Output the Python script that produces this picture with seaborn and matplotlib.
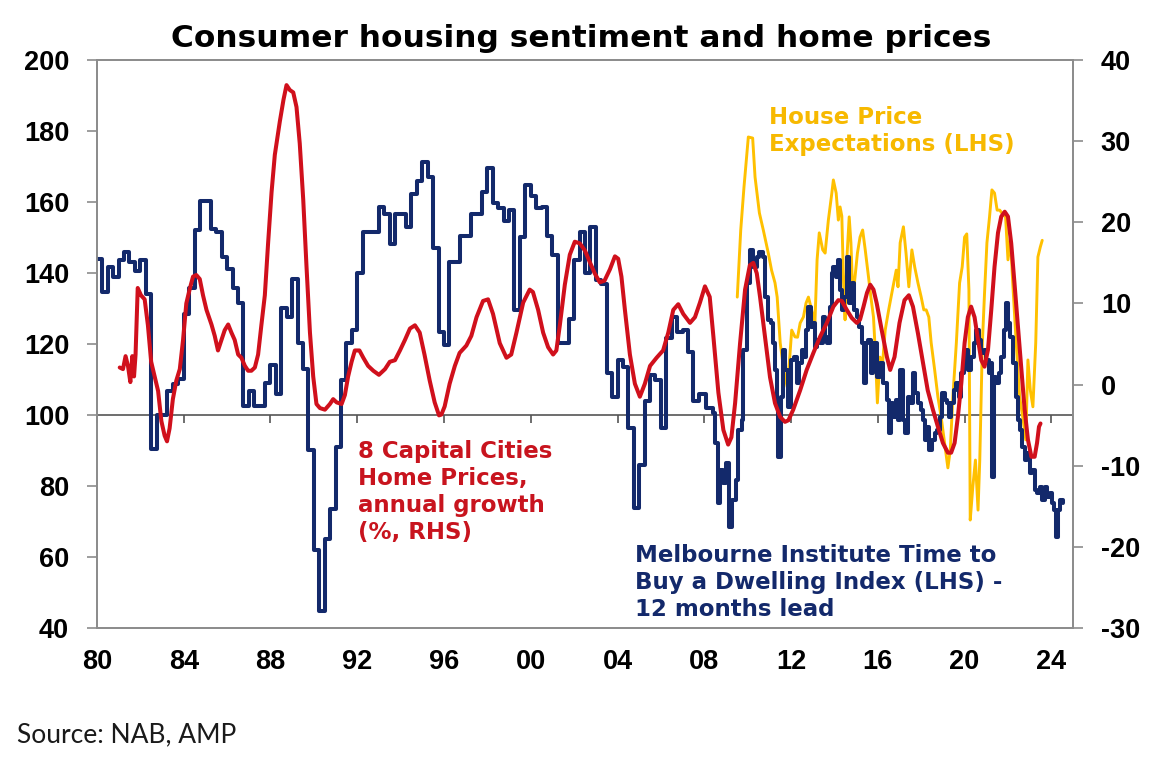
import matplotlib
matplotlib.use("Agg")
import matplotlib.pyplot as plt
import seaborn as sns

# Melbourne Institute "time to buy a dwelling" index (LHS), quarterly from 1980Q1 to 2007Q4
blue_q = [144, 134.5, 141.7, 139,
          143.6, 146, 143, 140.5,
          143.6, 134, 90.5, 100,
          100, 106.7, 108.7, 110,
          128.5, 135.8, 152, 160.3,
          160.3, 152.4, 151.4, 144.6,
          141, 135.8, 131.6, 102.5,
          106.7, 102.5, 102.5, 109,
          114, 106, 130, 127.5,
          138.4, 120.2, 112.9, 90,
          61.9, 44.7, 65, 73.4,
          91, 109.8, 120.2, 123.8,
          140, 151.4, 151.4, 151.4,
          158.7, 156.6, 148.3, 156.6,
          156.6, 153, 162.3, 166,
          171.2, 167, 147, 123.3,
          119.7, 143, 143, 150.4,
          150.4, 156.6, 156.6, 162.8,
          169.6, 159.7, 158.2, 154.5,
          157.6, 129.6, 150, 164.9,
          161.8, 158.2, 158.7, 150.4,
          145.2, 120.2, 120.2, 127,
          143.6, 151.4, 140, 153,
          138, 136.8, 111.9, 105,
          115.5, 113.4, 96.3, 73.9,
          85.8, 104, 111.3, 109.8,
          96.3, 121.7, 127.5, 123.3,
          123.8, 117.6, 104, 106]

# same index, monthly readings from 2008
blue_m_years = [2008.1, 2008.42, 2008.5, 2008.65, 2008.72, 2008.88, 2009.0, 2009.15, 2009.3, 2009.46,
                2009.57, 2009.72, 2009.8, 2009.95, 2010.1, 2010.23, 2010.42, 2010.54, 2010.7, 2010.8,
                2010.95, 2011.06, 2011.15, 2011.26, 2011.34, 2011.42, 2011.52, 2011.62, 2011.72, 2011.88,
                2011.98, 2012.14, 2012.26, 2012.38, 2012.49, 2012.6, 2012.69, 2012.8, 2012.9, 2013.0,
                2013.1, 2013.2, 2013.34, 2013.46, 2013.57, 2013.68, 2013.8, 2013.88, 2013.95, 2014.08,
                2014.18, 2014.26, 2014.34, 2014.45, 2014.57, 2014.68, 2014.8, 2014.88, 2015.03, 2015.15,
                2015.26, 2015.34, 2015.46, 2015.57, 2015.68, 2015.8, 2015.95, 2016.1, 2016.26, 2016.42,
                2016.5, 2016.6, 2016.72, 2016.85, 2016.95, 2017.03, 2017.15, 2017.26, 2017.38, 2017.5,
                2017.62, 2017.73, 2017.85, 2017.97, 2018.08, 2018.18, 2018.28, 2018.38, 2018.5, 2018.62,
                2018.73, 2018.85, 2018.95, 2019.08, 2019.18, 2019.28, 2019.38, 2019.5, 2019.62, 2019.73,
                2019.85, 2019.95, 2020.08, 2020.18, 2020.3, 2020.42, 2020.54, 2020.66, 2020.77, 2020.88,
                2021.0, 2021.12, 2021.2, 2021.28, 2021.35, 2021.46, 2021.58, 2021.69, 2021.8, 2021.89,
                2022.0, 2022.11, 2022.23, 2022.35, 2022.46, 2022.57, 2022.66, 2022.77, 2022.88, 2023.0,
                2023.12, 2023.23, 2023.34, 2023.46, 2023.57, 2023.69, 2023.8, 2023.92, 2024.02, 2024.1,
                2024.2, 2024.3, 2024.42, 2024.54]
blue_m_vals = [102, 100.6, 92, 75.2, 84.5, 80.8, 86.5, 68.5, 76, 81.7,
               95.8, 98.6, 118.3, 137.2, 146.5, 141.7, 144.5, 145.9, 144.5, 133.2,
               126.8, 125.9, 120.3, 112.7, 104.2, 88.2, 105.1, 118.3, 112.7, 102.3,
               115.5, 116.3, 109, 114.6, 118.3, 116.3, 123.9, 130.4, 124.8, 125.9,
               119.2, 121.1, 120.3, 127.6, 122, 120.3, 130.4, 140, 141.7, 138.9,
               143.7, 135.2, 129.6, 133.2, 144.5, 131.5, 137.2, 129.6, 127.6, 124.8,
               120.3, 109, 120.3, 121.1, 111.8, 120.3, 110.8, 114.6, 109, 104.2,
               95, 103.4, 99.4, 104.2, 98.6, 112.7, 98.6, 95, 105.1, 103.4,
               111.8, 106.2, 103.4, 101.4, 98.6, 93, 96.6, 90.1, 93, 95,
               95.8, 99.4, 106.2, 104.2, 103.4, 99.4, 103.4, 107, 109, 105.1,
               111.8, 114.6, 118.3, 112.7, 116.3, 120.3, 124, 121.1, 117.5, 118.3,
               115.5, 111.8, 114.6, 82.5, 110.8, 109, 111.8, 116.3, 124, 131.5,
               125.9, 122, 114.6, 105.1, 98.6, 95.8, 91, 87.3, 89.2, 83.6,
               84.5, 78.9, 78, 79.8, 76.1, 79.8, 76.9, 78, 75.2, 73.2,
               65.6, 73.2, 76.1, 75.2]

# 8 capital cities home prices, annual growth % (RHS)
red_years = [1981.05, 1981.2, 1981.32, 1981.43, 1981.54, 1981.63, 1981.71, 1981.78, 1981.88, 1982.03,
             1982.2, 1982.35, 1982.5, 1982.66, 1982.82, 1982.97, 1983.12, 1983.23, 1983.35, 1983.5,
             1983.66, 1983.82, 1983.97, 1984.12, 1984.28, 1984.43, 1984.58, 1984.74, 1984.89, 1985.05,
             1985.28, 1985.43, 1985.58, 1985.74, 1985.89, 1986.05, 1986.2, 1986.35, 1986.51, 1986.66,
             1986.82, 1986.97, 1987.12, 1987.28, 1987.43, 1987.58, 1987.74, 1987.89, 1988.05, 1988.2,
             1988.43, 1988.6, 1988.74, 1988.89, 1989.05, 1989.2, 1989.35, 1989.51, 1989.66, 1989.82,
             1989.97, 1990.12, 1990.28, 1990.51, 1990.74, 1990.89, 1991.05, 1991.28, 1991.43, 1991.58,
             1991.74, 1991.89, 1992.1, 1992.28, 1992.5, 1992.74, 1993.0, 1993.28, 1993.5, 1993.74,
             1993.97, 1994.2, 1994.43, 1994.66, 1994.88, 1995.1, 1995.34, 1995.57, 1995.77, 1995.88,
             1996.03, 1996.26, 1996.5, 1996.72, 1997.03, 1997.26, 1997.5, 1997.8, 1998.03, 1998.26,
             1998.57, 1998.88, 1999.1, 1999.34, 1999.65, 1999.95, 2000.1, 2000.34, 2000.57, 2000.8,
             2001.03, 2001.18, 2001.34, 2001.57, 2001.8, 2002.03, 2002.26, 2002.5, 2002.72, 2002.95,
             2003.18, 2003.4, 2003.65, 2003.88, 2004.03, 2004.18, 2004.34, 2004.57, 2004.8, 2005.03,
             2005.26, 2005.5, 2005.8, 2006.1, 2006.34, 2006.57, 2006.8, 2007.03, 2007.34, 2007.57,
             2007.8, 2008.03, 2008.25, 2008.42, 2008.65, 2008.88, 2009.1, 2009.25, 2009.42, 2009.65,
             2009.88, 2010.1, 2010.26, 2010.42, 2010.57, 2010.8, 2011.03, 2011.26, 2011.5, 2011.72,
             2011.88, 2012.1, 2012.42, 2012.72, 2013.03, 2013.34, 2013.65, 2013.95, 2014.18, 2014.34,
             2014.57, 2014.8, 2015.03, 2015.18, 2015.34, 2015.5, 2015.65, 2015.8, 2015.95, 2016.18,
             2016.42, 2016.57, 2016.77, 2017.0, 2017.23, 2017.43, 2017.62, 2017.85, 2018.08, 2018.3,
             2018.54, 2018.77, 2019.0, 2019.23, 2019.38, 2019.54, 2019.69, 2019.85, 2020.0, 2020.15,
             2020.3, 2020.46, 2020.62, 2020.77, 2020.92, 2021.08, 2021.23, 2021.38, 2021.54, 2021.69,
             2021.85, 2022.0, 2022.15, 2022.3, 2022.46, 2022.62, 2022.77, 2022.92, 2023.08, 2023.23,
             2023.34, 2023.43, 2023.5]
red_vals = [2.1, 1.9, 3.5, 2.3, 0.3, 3.5, 1.0, 3.7, 11.9, 11.0,
            10.5, 7.3, 2.8, 1.0, -0.8, -4.5, -6.3, -7.0, -5.4, -1.8,
            0.5, 1.9, 5.5, 10.0, 11.8, 13.3, 13.5, 13.0, 11.0, 9.2,
            7.4, 6.0, 4.2, 5.5, 6.7, 7.4, 6.4, 5.5, 3.7, 3.3,
            2.3, 1.7, 1.7, 2.1, 3.7, 7.3, 11.0, 17.4, 23.7, 28.3,
            32.4, 35.1, 36.9, 36.3, 36.0, 34.2, 29.7, 22.8, 14.6, 6.4,
            1.0, -2.4, -2.9, -3.1, -2.4, -1.8, -2.2, -2.4, -1.3, 1.0,
            2.8, 4.2, 4.2, 3.3, 2.3, 1.7, 1.2, 1.9, 2.8, 3.0,
            4.2, 5.5, 6.9, 7.3, 6.4, 3.7, 0.5, -2.2, -3.8, -3.7,
            -2.7, 0.1, 2.3, 3.9, 4.8, 6.0, 8.3, 10.3, 10.5, 8.7,
            5.1, 3.3, 3.7, 6.4, 10.1, 11.7, 11.4, 9.2, 6.4, 4.6,
            3.7, 4.2, 7.3, 12.3, 16.0, 17.6, 17.4, 16.5, 15.1, 13.7,
            12.6, 12.8, 14.2, 15.8, 15.5, 13.3, 9.2, 3.7, 0.1, -1.5,
            0.1, 2.3, 3.3, 4.2, 6.4, 9.2, 9.9, 8.7, 7.6, 8.3,
            10.1, 12.1, 10.8, 5.9, -1.0, -5.6, -7.4, -6.5, -2.3, 5.1,
            11.7, 14.7, 15.0, 13.7, 10.8, 5.9, 0.9, -2.3, -4.0, -4.6,
            -4.4, -3.1, -0.7, 1.8, 3.9, 5.9, 7.6, 9.6, 10.4, 10.3,
            9.2, 8.2, 7.6, 8.0, 9.6, 11.3, 12.3, 11.7, 10.0, 6.7,
            3.4, 1.8, 3.4, 7.6, 10.4, 11.0, 9.6, 6.3, 2.7, -0.7,
            -3.1, -5.2, -7.2, -8.4, -8.4, -7.2, -4.0, 0.2, 5.1, 8.3,
            9.6, 8.3, 5.5, 3.0, 2.2, 4.3, 9.2, 14.5, 18.7, 20.7,
            21.3, 20.7, 17.4, 12.5, 7.1, 1.8, -3.1, -6.8, -8.9, -8.9,
            -7.2, -5.2, -4.8]

# house price expectations (LHS)
hpe_years = [2009.52, 2009.68, 2009.83, 2010.03, 2010.23, 2010.34, 2010.54, 2010.72, 2010.95, 2011.1,
             2011.26, 2011.36, 2011.5, 2011.62, 2011.72, 2011.82, 2011.92, 2012.03, 2012.18, 2012.3,
             2012.42, 2012.57, 2012.69, 2012.8, 2012.95, 2013.1, 2013.2, 2013.3, 2013.46, 2013.57,
             2013.72, 2013.88, 2013.95, 2014.08, 2014.18, 2014.26, 2014.34, 2014.42, 2014.49, 2014.57,
             2014.68, 2014.76, 2014.85, 2014.95, 2015.06, 2015.18, 2015.3, 2015.42, 2015.57, 2015.68,
             2015.8, 2015.88, 2015.98, 2016.1, 2016.22, 2016.34, 2016.5, 2016.7, 2016.85, 2016.93,
             2017.03, 2017.18, 2017.3, 2017.43, 2017.57, 2017.7, 2017.85, 2018.0, 2018.12, 2018.23,
             2018.35, 2018.46, 2018.62, 2018.77, 2018.92, 2019.08, 2019.23, 2019.34, 2019.46, 2019.62,
             2019.77, 2019.89, 2020.0, 2020.1, 2020.2, 2020.26, 2020.38, 2020.5, 2020.62, 2020.7,
             2020.82, 2020.92, 2021.03, 2021.15, 2021.26, 2021.38, 2021.5, 2021.62, 2021.75, 2021.89,
             2022.0, 2022.11, 2022.23, 2022.38, 2022.54, 2022.7, 2022.82, 2022.92, 2023.03, 2023.15,
             2023.28, 2023.38, 2023.49, 2023.58]
hpe_vals = [133.2, 152.1, 164.2, 178.3, 178, 167, 156.9, 152.1, 145.6, 140.8,
            137.2, 133.2, 120.3, 114.6, 110.8, 107.9, 114.6, 123.9, 122, 121.9,
            125.9, 127.6, 131.5, 133.2, 129.6, 125.9, 143.7, 151.3, 146.5, 145.6,
            154.9, 162.5, 166.2, 162.5, 154.9, 158.6, 156.0, 137.2, 126.8, 143.7,
            155.8, 148.5, 133.2, 138.9, 145.6, 150.1, 152.1, 146.5, 138.9, 133.2,
            127.6, 118.3, 103.4, 116.3, 114.6, 123.9, 129.6, 136.1, 140.8, 136.1,
            148.5, 153, 145.6, 136.1, 146.5, 141.7, 137.2, 133.2, 129.6, 129.6,
            127.6, 120.3, 112.7, 105.1, 99.4, 92, 85.1, 90.1, 105.1, 120.3,
            137.2, 141.7, 150.1, 151.0, 135.2, 70.4, 79.8, 87.3, 73.2, 87.3,
            120.3, 134.4, 148.5, 155.8, 163.4, 162.5, 157.7, 157.7, 156.6, 155.8,
            143.7, 150.1, 136.1, 120.3, 105.1, 98.6, 93, 115.5, 107.0, 102.3,
            120.3, 144.5, 147.3, 149.2]

x_ticks = list(range(1980, 2025, 4))
left_ticks = list(range(40, 201, 20))
right_ticks = list(range(-30, 41, 10))

NAVY = "#13296b"
RED = "#d0101c"
GOLD = "#ffc000"
SPINE = "#8c8c8c"

sns.set_style("white")
plt.rcParams["font.family"] = ["Liberation Sans", "DejaVu Sans"]
plt.rcParams["font.weight"] = "bold"
plt.rcParams["axes.unicode_minus"] = False

blue_years = [1980 + 0.25 * i for i in range(len(blue_q))] + blue_m_years
blue_vals = blue_q + blue_m_vals

fig = plt.figure(figsize=(11.68, 7.62), dpi=100)
ax = fig.add_axes([0.0830, 0.1759, 0.8357, 0.7454])
ax2 = ax.twinx()

ax.axhline(100, color="#555555", lw=1.2, zorder=1)
sns.lineplot(x=hpe_years, y=hpe_vals, ax=ax, color=GOLD, linewidth=2.1,
             estimator=None, sort=False, zorder=2)
sns.lineplot(x=blue_years, y=blue_vals, ax=ax, color=NAVY, linewidth=2.9,
             drawstyle="steps-post", estimator=None, sort=False, zorder=3)
sns.lineplot(x=red_years, y=red_vals, ax=ax2, color=RED, linewidth=2.9,
             estimator=None, sort=False)

ax.set_xlim(1980, 2025)
ax.set_ylim(40, 200)
ax2.set_ylim(-30, 40)
ax.set_yticks(left_ticks)
ax2.set_yticks(right_ticks)
ax.set_xticks(x_ticks)
ax.set_xticklabels([f"{y % 100:02d}" for y in x_ticks])
ax.set_xlabel("")
ax.set_ylabel("")
ax2.set_ylabel("")

ax.tick_params(axis="x", length=0, pad=15, labelsize=19.5, labelcolor="black")
ax.tick_params(axis="y", direction="out", length=7, width=1.2, color=SPINE,
               labelsize=19.5, pad=13, labelcolor="black")
ax2.tick_params(axis="y", direction="out", length=7, width=1.2, color=SPINE,
                labelsize=19.5, pad=13, labelcolor="black")

# tick marks sitting on the 100 line
sec = ax.secondary_xaxis(0.375)
sec.set_xticks(x_ticks)
sec.tick_params(direction="out", length=6, width=1.2, color="#555555", labelbottom=False)
sec.spines["bottom"].set_visible(False)

for a in (ax, ax2):
    for s in a.spines.values():
        s.set_visible(True)
        s.set_color(SPINE)
        s.set_linewidth(1.3)

txt = dict(transform=ax.transAxes, family="DejaVu Sans", fontweight="bold",
           fontsize=16.5, va="top", ha="left", linespacing=1.22)
ax.text(0.2674, 0.331, "8 Capital Cities\nHome Prices,\nannual growth\n(%, RHS)",
        color="#c8141e", **txt)
ax.text(0.551, 0.148, "Melbourne Institute Time to\nBuy a Dwelling Index (LHS) -\n12 months lead",
        color=NAVY, **txt)
ax.text(0.6885, 0.919, "House Price\nExpectations (LHS)", color="#f7b900", **txt)

fig.text(0.498, 0.938, "Consumer housing sentiment and home prices", ha="center",
         va="baseline", family="DejaVu Sans", fontweight="bold", fontsize=22.5,
         color="black")
fig.text(0.0146, 0.0253, "Source: NAB, AMP", ha="left", va="baseline",
         family="Lato", fontweight="normal", fontsize=19, color="#1a1a1a")

fig.savefig("out.png", dpi=100)
